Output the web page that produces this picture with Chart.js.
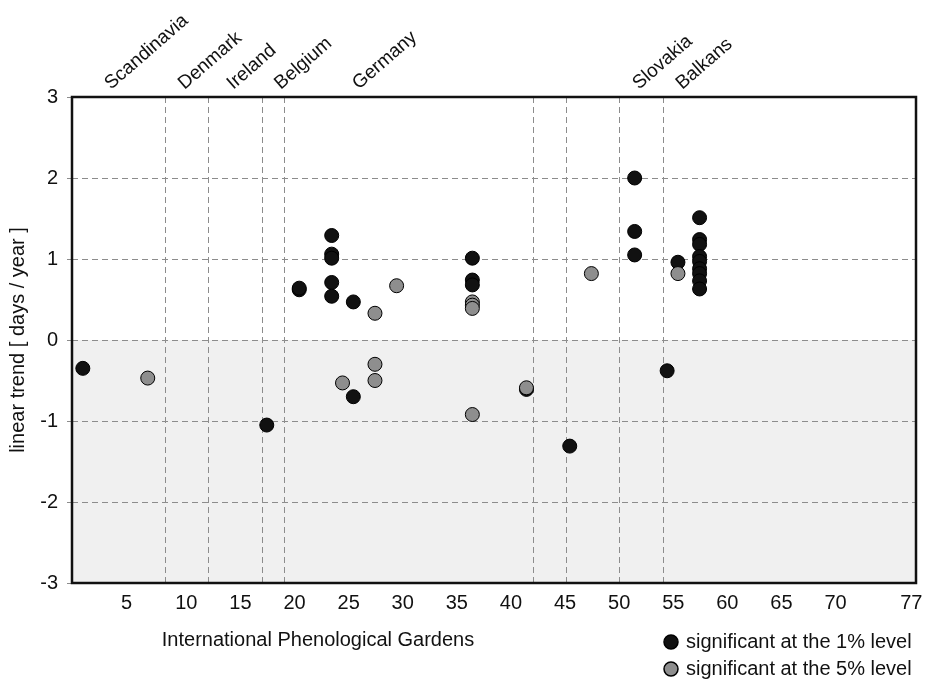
<!DOCTYPE html>
<html>
<head>
<meta charset="utf-8">
<title>Linear trend at the International Phenological Gardens</title>
<script src="https://cdn.jsdelivr.net/npm/chart.js@4.4.1/dist/chart.umd.min.js"></script>
<style>
  html, body { margin: 0; padding: 0; background: #fff; }
  #wrap { width: 930px; height: 681px; }
</style>
</head>
<body>
<div id="wrap"><canvas id="trend-chart"></canvas></div>
<script>
// garden number / linear trend (days per year), 1% significance
const gardens1 = [1, 18, 21, 21, 24, 24, 24, 24, 24, 26, 26, 37, 37, 37, 42, 46,
  52, 52, 52, 55, 56, 58, 58, 58, 58, 58, 58, 58, 58, 58];
const trend1 = [-0.35, -1.05, 0.62, 0.64, 1.29, 1.06, 1.01, 0.71, 0.54, 0.47, -0.70,
  1.01, 0.74, 0.68, -0.61, -1.31, 2.00, 1.34, 1.05, -0.38, 0.96,
  1.51, 1.24, 1.18, 1.03, 0.97, 0.88, 0.82, 0.73, 0.63];

// 5% significance
const gardens5 = [7, 25, 28, 28, 28, 30, 37, 37, 37, 37, 42, 48, 56];
const trend5 = [-0.47, -0.53, 0.33, -0.30, -0.50, 0.67, 0.47, 0.43, 0.39, -0.92, -0.59, 0.82, 0.82];

const xTicks = [5, 10, 15, 20, 25, 30, 35, 40, 45, 50, 55, 60, 65, 70, 77];
const yTicks = [-3, -2, -1, 0, 1, 2, 3];

// country groups: borders between them and where the name is written
const regionBounds = [8.65, 12.65, 17.65, 19.6, 42.65, 45.7, 50.6, 54.65];
const regionNames = ["Scandinavia", "Denmark", "Ireland", "Belgium", "Germany", "Slovakia", "Balkans"];
const regionAt = [3.6, 10.4, 14.9, 19.3, 26.5, 52.4, 56.4];

const FONT = "'Liberation Sans', Arial, Helvetica, sans-serif";
const GRID = "#8c8c8c";

const toPoints = (xs, ys) => xs.map((x, i) => ({ x: x, y: ys[i] }));

const decor = {
  id: "decor",
  beforeDraw(chart) {
    const { ctx, chartArea: a, scales } = chart;
    const y0 = scales.y.getPixelForValue(0);
    ctx.save();
    ctx.fillStyle = "#f0f0f0";
    ctx.fillRect(a.left, y0, a.right - a.left, a.bottom - y0);
    ctx.restore();
  },
  afterDraw(chart) {
    const { ctx, chartArea: a, scales } = chart;
    ctx.save();
    // frame
    ctx.strokeStyle = "#111";
    ctx.lineWidth = 2.5;
    ctx.strokeRect(a.left, a.top, a.right - a.left, a.bottom - a.top);

    ctx.fillStyle = "#111";
    // country names
    ctx.font = "19px " + FONT;
    regionNames.forEach((name, i) => {
      ctx.save();
      ctx.translate(scales.x.getPixelForValue(regionAt[i]), a.top - 7);
      ctx.rotate(-41 * Math.PI / 180);
      ctx.textAlign = "left";
      ctx.textBaseline = "alphabetic";
      ctx.fillText(name, 0, 0);
      ctx.restore();
    });

    // axis title
    ctx.font = "20px " + FONT;
    ctx.textAlign = "center";
    ctx.textBaseline = "middle";
    ctx.fillText("International Phenological Gardens", a.left + 246, a.bottom + 57);

    // legend
    ctx.textAlign = "left";
    chart.data.datasets.slice().reverse().forEach((ds, i) => {
      const cy = a.bottom + 59 + i * 27;
      const cx = a.right - 245;
      ctx.beginPath();
      ctx.arc(cx, cy, 7, 0, Math.PI * 2);
      ctx.fillStyle = ds.backgroundColor;
      ctx.fill();
      ctx.lineWidth = 1.5;
      ctx.strokeStyle = "#000";
      ctx.stroke();
      ctx.fillStyle = "#111";
      ctx.fillText(ds.label, cx + 15, cy);
    });
    ctx.restore();
  }
};

new Chart(document.getElementById("trend-chart"), {
  type: "scatter",
  data: {
    datasets: [
      {
        label: "significant at the 5% level",
        data: toPoints(gardens5, trend5),
        backgroundColor: "#8e8e8e",
        borderColor: "#000",
        borderWidth: 1,
        pointRadius: 7,
        order: 0
      },
      {
        label: "significant at the 1% level",
        data: toPoints(gardens1, trend1),
        backgroundColor: "#111111",
        borderColor: "#000",
        borderWidth: 1,
        pointRadius: 7,
        order: 1
      }
    ]
  },
  options: {
    responsive: true,
    maintainAspectRatio: false,
    animation: false,
    layout: { padding: { top: 97, right: 14, bottom: 0, left: 0 } },
    plugins: {
      legend: { display: false },
      tooltip: { enabled: false }
    },
    scales: {
      x: {
        type: "linear",
        position: "bottom",
        min: 0,
        max: 78,
        afterBuildTicks: (s) => { s.ticks = xTicks.map((v) => ({ value: v })); },
        afterFit: (s) => { s.height = 98; s.paddingLeft = 0; s.paddingRight = 0; },
        ticks: {
          align: "start",
          labelOffset: -5,
          padding: 0,
          autoSkip: false,
          maxRotation: 0,
          color: "#111",
          font: { family: FONT, size: 20 }
        },
        grid: { display: false },
        border: { display: false }
      },
      x2: {
        type: "linear",
        position: "top",
        min: 0,
        max: 78,
        afterBuildTicks: (s) => { s.ticks = regionBounds.map((v) => ({ value: v })); },
        afterFit: (s) => { s.height = 0; s.paddingLeft = 0; s.paddingRight = 0; },
        ticks: { display: false },
        grid: { color: GRID, lineWidth: 1, drawTicks: false },
        border: { display: false, dash: [6, 4] }
      },
      y: {
        min: -3,
        max: 3,
        afterBuildTicks: (s) => { s.ticks = yTicks.map((v) => ({ value: v })); },
        afterFit: (s) => { s.width = 72; },
        ticks: {
          padding: 9,
          color: "#111",
          font: { family: FONT, size: 20 }
        },
        grid: { color: GRID, lineWidth: 1, tickLength: 5, tickColor: GRID },
        border: { display: false, dash: [6, 4] },
        title: {
          display: true,
          text: "linear trend [ days / year ]",
          color: "#111",
          font: { family: FONT, size: 20 },
          padding: { top: 6, bottom: 0 }
        }
      }
    }
  },
  plugins: [decor]
});
</script>
</body>
</html>
